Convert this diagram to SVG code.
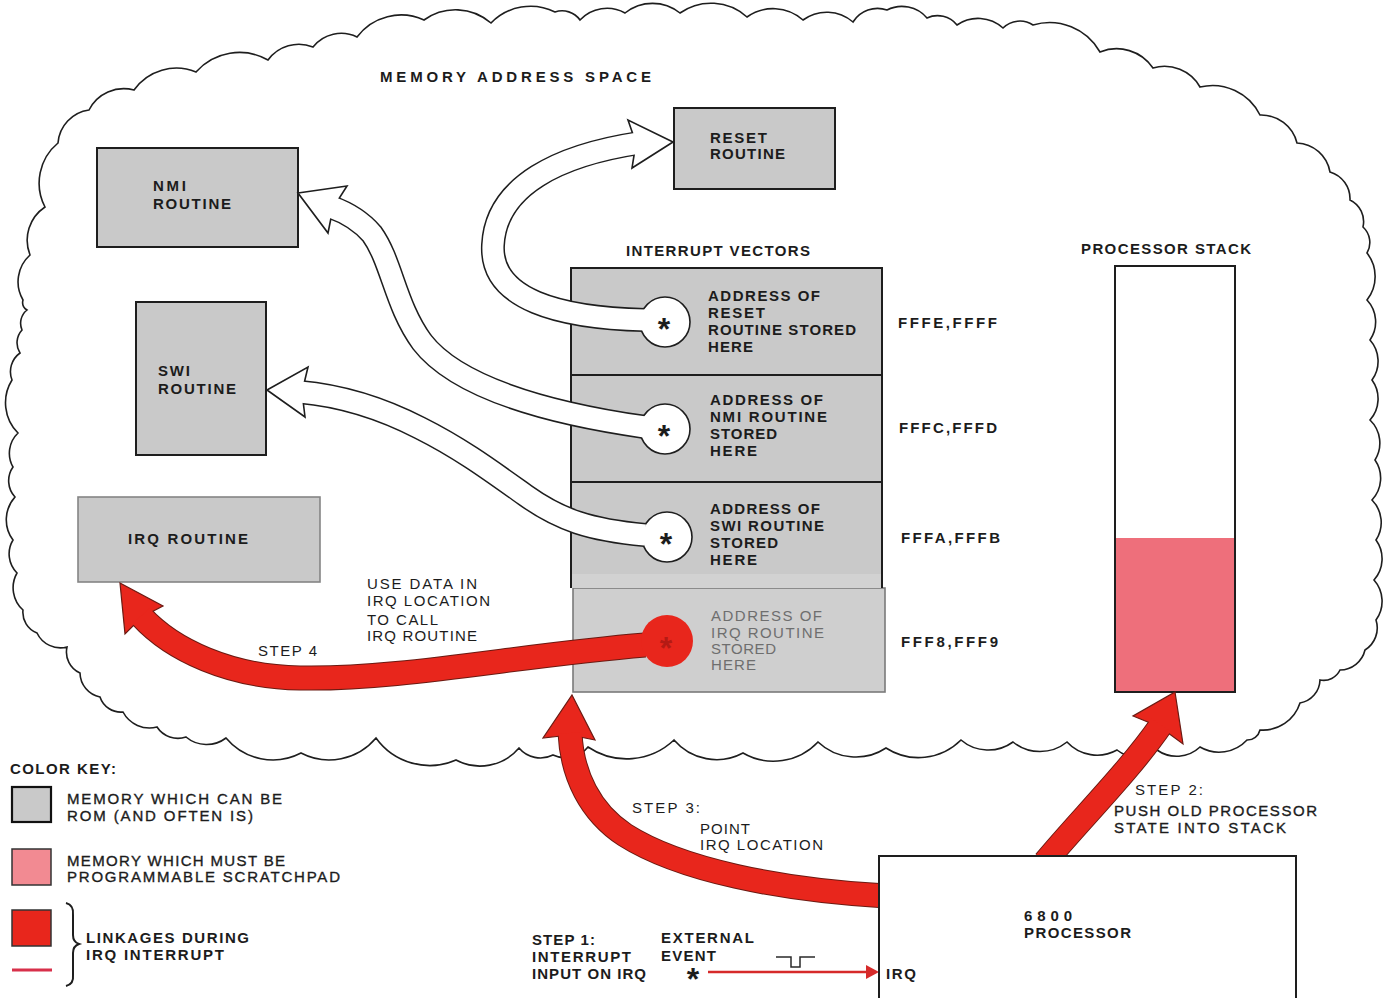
<svg xmlns="http://www.w3.org/2000/svg" width="1384" height="998" viewBox="0 0 1384 998">
<style>
text{font-family:"Liberation Sans",Arial,sans-serif;font-size:15px;fill:#1c1c1c;font-weight:bold}
.n{font-weight:normal}
.m{font-weight:normal;stroke:#1c1c1c;stroke-width:0.35}
.g{fill:#6e6e6e;font-weight:normal}
.rom{fill:#c9c9c9;stroke:#1e1e1e;stroke-width:2}
.ast{font-size:32px;text-anchor:middle}
.wo{fill:none;stroke:#1e1e1e;stroke-width:24}
.wi{fill:none;stroke:#fff;stroke-width:21}
.whead{fill:#fff;stroke:#1e1e1e;stroke-width:1.6;stroke-linejoin:miter}
.wc{fill:#fff;stroke:#1e1e1e;stroke-width:1.6}
.ro{fill:none;stroke:#6a1a12;stroke-width:25}
.ri{fill:none;stroke:#e8261c;stroke-width:23}
.rhead{fill:#e8261c;stroke:#6a1a12;stroke-width:1.2;stroke-linejoin:miter}
</style>
<rect width="1384" height="998" fill="#fff"/>
<g id="cloud">
<path fill="#fff" stroke="#1e1e1e" stroke-width="1.6" d="M23,300 A36,36 0 0 1 30,255 A40,40 0 0 1 45,207 A52,52 0 0 1 58,143 A36,36 0 0 1 89,110 A39,39 0 0 1 134,90 A52,52 0 0 1 196,72 A58,58 0 0 1 268,60 A38,38 0 0 1 313,47 A36,36 0 0 1 357,37 A55,55 0 0 1 424,20 A54,54 0 0 1 491,23 A55,55 0 0 1 555,12 A22,22 0 0 1 580,20 A37,37 0 0 1 625,13 A44,44 0 0 1 680,13 A54,54 0 0 1 747,17 A45,45 0 0 1 803,20 A40,40 0 0 1 853,22 A29,29 0 0 1 887,10 A33,33 0 0 1 927,18 A25,25 0 0 1 957,25 A37,37 0 0 1 1003,28 A24,24 0 0 1 1033,25 A58,58 0 0 1 1100,52 A44,44 0 0 1 1153,68 A41,41 0 0 1 1200,87 A53,53 0 0 1 1260,115 A37,37 0 0 1 1297,143 A35,35 0 0 1 1330,172 A28,28 0 0 1 1350,200 A24,24 0 0 1 1363,227 A21,21 0 0 1 1367,253 A38,38 0 0 1 1367,300 A32,32 0 0 1 1370,340 A32,32 0 0 1 1372,380 A32,32 0 0 1 1370,420 A32,32 0 0 1 1375,460 A32,32 0 0 1 1372,500 A32,32 0 0 1 1376,540 A32,32 0 0 1 1374,580 A32,32 0 0 1 1376,620 A26,26 0 0 1 1365,650 A26,26 0 0 1 1340,670 A18,18 0 0 1 1320,680 A24,24 0 0 1 1300,703 A39,39 0 0 1 1260,730 A13,13 0 0 1 1247,740 A38,38 0 0 1 1200,747 A34,34 0 0 1 1157,750 A32,32 0 0 1 1117,750 A41,41 0 0 1 1067,742 A43,43 0 0 1 1013,742 A42,42 0 0 1 961,740 A60,60 0 0 1 886,748 A55,55 0 0 1 818,742 A61,61 0 0 1 743,753 A56,56 0 0 1 674,740 A69,69 0 0 1 588,747 A29,29 0 0 1 553,755 A28,28 0 0 1 519,748 A51,51 0 0 1 456,760 A66,66 0 0 1 376,738 A61,61 0 0 1 301,753 A61,61 0 0 1 226,738 A32,32 0 0 1 186,737 A25,25 0 0 1 157,727 A30,30 0 0 1 123,712 A22,22 0 0 1 100,697 A25,25 0 0 1 80,673 A23,23 0 0 1 67,647 A26,26 0 0 1 37,633 A22,22 0 0 1 23,610 A30,30 0 0 1 17,573 A27,27 0 0 1 13,540 A34,34 0 0 1 15,497 A24,24 0 0 1 13,467 A28,28 0 0 1 18,433 A43,43 0 0 1 12,380 A23,23 0 0 1 20,353 A19,19 0 0 1 22,330 A17,17 0 0 1 27,310 A9,9 0 0 1 23,300 Z"/>
<text x="380" y="82" textLength="271">MEMORY ADDRESS SPACE</text>
</g>
<g id="reset-routine">
<rect class="rom" x="674" y="108" width="161" height="81"/>
<text x="710" y="143" textLength="57">RESET</text>
<text x="710" y="159" textLength="75">ROUTINE</text>
</g>
<g id="nmi-routine">
<rect class="rom" x="97" y="148" width="201" height="99"/>
<text x="153" y="191" textLength="33">NMI</text>
<text x="153" y="209" textLength="78">ROUTINE</text>
</g>
<g id="swi-routine">
<rect class="rom" x="136" y="302" width="130" height="153"/>
<text x="158" y="376" textLength="32">SWI</text>
<text x="158" y="394" textLength="78">ROUTINE</text>
</g>
<g id="irq-routine">
<rect x="78" y="497" width="242" height="85" fill="#c9c9c9" stroke="#858585" stroke-width="1.6"/>
<text x="128" y="544" textLength="120">IRQ ROUTINE</text>
</g>
<g id="interrupt-vectors">
<text x="626" y="256" textLength="184">INTERRUPT VECTORS</text>
<rect x="573" y="588" width="312" height="104" fill="#cfcfcf" stroke="#7a7a7a" stroke-width="1.6"/>
<rect class="rom" x="571" y="268" width="311" height="107"/>
<rect class="rom" x="571" y="375" width="311" height="107"/>
<rect x="571" y="482" width="311" height="106" fill="#c9c9c9"/>
<path d="M571,588 L571,482 L882,482 L882,588" fill="none" stroke="#1e1e1e" stroke-width="2"/>
<rect x="572" y="574" width="309" height="14" fill="#d2d2d2"/>
<text x="708" y="301" textLength="112">ADDRESS OF</text>
<text x="708" y="318" textLength="57">RESET</text>
<text x="708" y="335" textLength="148">ROUTINE STORED</text>
<text x="708" y="352" textLength="45">HERE</text>
<text x="710" y="405" textLength="113">ADDRESS OF</text>
<text x="710" y="422" textLength="117">NMI ROUTINE</text>
<text x="710" y="439" textLength="67">STORED</text>
<text x="710" y="456" textLength="47">HERE</text>
<text x="710" y="514" textLength="110">ADDRESS OF</text>
<text x="710" y="531" textLength="114">SWI ROUTINE</text>
<text x="710" y="548" textLength="68">STORED</text>
<text x="710" y="565" textLength="47">HERE</text>
<text class="g" x="711" y="621" textLength="111">ADDRESS OF</text>
<text class="g" x="711" y="638" textLength="113">IRQ ROUTINE</text>
<text class="g" x="711" y="654" textLength="65">STORED</text>
<text class="g" x="711" y="670" textLength="45">HERE</text>
<text x="898" y="328" textLength="99">FFFE,FFFF</text>
<text x="899" y="433" textLength="98">FFFC,FFFD</text>
<text x="901" y="543" textLength="99">FFFA,FFFB</text>
<text x="901" y="647" textLength="97">FFF8,FFF9</text>
</g>
<g id="processor-stack">
<text x="1081" y="254" textLength="170">PROCESSOR STACK</text>
<rect x="1115" y="266" width="120" height="426" fill="#fff"/>
<rect x="1115" y="538" width="120" height="154" fill="#ee6f7b"/>
<rect x="1115" y="266" width="120" height="426" fill="none" stroke="#1e1e1e" stroke-width="2"/>
</g>
<g id="connectors">
<path class="wo" d="M645,320 C560,318 490,300 493,245 C496,185 560,155 639,143"/>
<path class="wo" d="M645,427 C540,412 455,385 422,342 C395,305 392,262 372,234 C360,220 345,212 331,207"/>
<path class="wo" d="M645,535 C590,530 560,520 525,495 C490,470 460,448 420,428 C385,410 345,396 300,392"/>
<circle class="wc" cx="665" cy="322" r="25"/>
<circle class="wc" cx="665" cy="429" r="25"/>
<circle class="wc" cx="667" cy="537" r="25"/>
<polygon class="whead" points="673,142 628,120 636,143 632,168"/>
<polygon class="whead" points="298,193 347,186 333,208 328,233"/>
<polygon class="whead" points="267,390 308,367 302,392 305,417"/>
<path class="wi" d="M645,320 C560,318 490,300 493,245 C496,185 560,155 639,143"/>
<path class="wi" d="M645,427 C540,412 455,385 422,342 C395,305 392,262 372,234 C360,220 345,212 331,207"/>
<path class="wi" d="M645,535 C590,530 560,520 525,495 C490,470 460,448 420,428 C385,410 345,396 300,392"/>
<circle cx="665" cy="322" r="23.5" fill="#fff"/>
<circle cx="665" cy="429" r="23.5" fill="#fff"/>
<circle cx="667" cy="537" r="23.5" fill="#fff"/>
<text class="ast" x="664" y="340">*</text>
<text class="ast" x="664" y="447">*</text>
<text class="ast" x="666" y="555">*</text>

<path class="ro" d="M645,645 C520,655 400,680 300,678 C230,677 172,650 141,616"/>
<path class="ro" d="M886,896 C780,890 680,870 625,835 C590,812 572,775 570,733"/>
<path class="ro" d="M1045,862 C1080,820 1130,770 1161,725"/>
<polygon class="rhead" points="120,583 163,606 142,617 125,634"/>
<polygon class="rhead" points="572,695 595,740 570,735 543,738"/>
<polygon class="rhead" points="1175,692 1183,744 1160,727 1133,716"/>
<path class="ri" d="M645,645 C520,655 400,680 300,678 C230,677 172,650 141,616"/>
<path class="ri" d="M886,896 C780,890 680,870 625,835 C590,812 572,775 570,733"/>
<path class="ri" d="M1045,862 C1080,820 1130,770 1161,725"/>
<circle cx="667" cy="641" r="26" fill="#e8261c"/>
<text class="ast" x="666" y="659" style="fill:#b51a14">*</text>

<line x1="708" y1="972" x2="868" y2="972" stroke="#d62a2a" stroke-width="2.5"/>
<polygon points="866,965 879,972 866,979" fill="#d62a2a"/>
<path d="M776,957 L791,957 L791,967 L800,967 L800,957 L815,957" fill="none" stroke="#2a2a2a" stroke-width="1.5"/>
</g>
<g id="labels">
<text class="n" x="367" y="589" textLength="110">USE DATA IN</text>
<text class="n" x="367" y="606" textLength="123">IRQ LOCATION</text>
<text class="n" x="367" y="625" textLength="71">TO CALL</text>
<text class="n" x="367" y="641" textLength="110">IRQ ROUTINE</text>
<text class="n" x="258" y="656" textLength="59">STEP 4</text>
<text class="n" x="632" y="813" textLength="68">STEP 3:</text>
<text class="n" x="700" y="834" textLength="50">POINT</text>
<text class="n" x="700" y="850" textLength="123">IRQ LOCATION</text>
<text class="n" x="1135" y="795" textLength="68">STEP 2:</text>
<text class="m" x="1114" y="816" textLength="203">PUSH OLD PROCESSOR</text>
<text class="m" x="1114" y="833" textLength="172">STATE INTO STACK</text>
<text x="532" y="945" textLength="63">STEP 1:</text>
<text x="532" y="962" textLength="99">INTERRUPT</text>
<text x="532" y="979" textLength="114">INPUT ON IRQ</text>
<text x="661" y="943" textLength="93">EXTERNAL</text>
<text x="661" y="961" textLength="55">EVENT</text>
<text class="ast" x="693" y="990">*</text>
</g>
<g id="processor">
<rect x="879" y="856" width="417" height="150" fill="#fff" stroke="#1e1e1e" stroke-width="2"/>
<text x="1024" y="921" textLength="48">6800</text>
<text x="1024" y="938" textLength="107">PROCESSOR</text>
<text x="886" y="979" textLength="30">IRQ</text>
</g>
<g id="color-key">
<text x="10" y="774" textLength="106">COLOR KEY:</text>
<rect x="12" y="787" width="39" height="35" fill="#c9c9c9" stroke="#111" stroke-width="2.2"/>
<text class="m" x="67" y="804" textLength="215">MEMORY WHICH CAN BE</text>
<text class="m" x="67" y="821" textLength="186">ROM (AND OFTEN IS)</text>
<rect x="12" y="849" width="39" height="36" fill="#f28a92" stroke="#333" stroke-width="1.5"/>
<text class="m" x="67" y="866" textLength="218">MEMORY WHICH MUST BE</text>
<text class="m" x="67" y="882" textLength="273">PROGRAMMABLE SCRATCHPAD</text>
<rect x="12" y="910" width="39" height="36" fill="#e8261c" stroke="#333" stroke-width="1.5"/>
<line x1="12" y1="970" x2="52" y2="970" stroke="#d8304a" stroke-width="3"/>
<path d="M66,903 Q74,905 73,915 L73,935 Q73,942 79,944 Q73,946 73,953 L73,975 Q74,984 66,986" fill="none" stroke="#1e1e1e" stroke-width="2"/>
<text x="86" y="943" textLength="163">LINKAGES DURING</text>
<text x="86" y="960" textLength="138">IRQ INTERRUPT</text>
</g>
</svg>
